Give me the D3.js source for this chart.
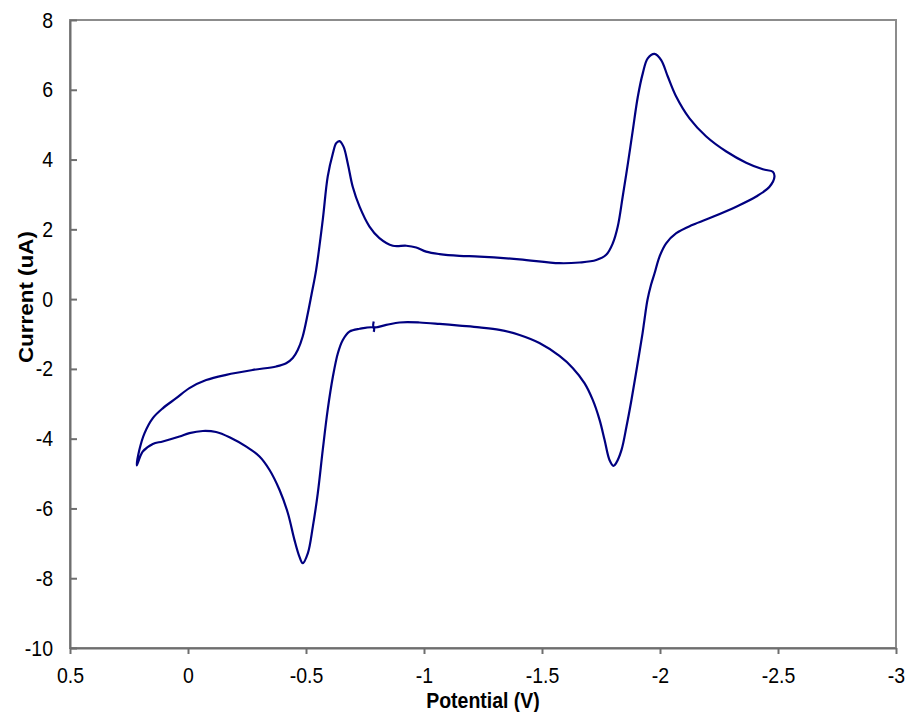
<!DOCTYPE html>
<html>
<head>
<meta charset="utf-8">
<script src="https://cdn.jsdelivr.net/npm/d3@7"></script>
<style>
  body { margin: 0; background: #fff; }
  text { font-family: "Liberation Sans", Arial, sans-serif; }
</style>
</head>
<body>
<div id="chart"></div>
<script>
const width = 908;
const height = 712;

// Cyclic voltammogram, in scan order (starts at the small tick near -0.79 V)
const potential = [
  -0.787, -0.787, -0.727, -0.684, -0.656, -0.635, -0.614, -0.592, -0.571, -0.550,
  -0.529, -0.508, -0.486, -0.472, -0.451, -0.423, -0.388, -0.345, -0.303, -0.247,
  -0.176, -0.119, -0.063, -0.006, 0.036, 0.107, 0.149, 0.192, 0.217,
  0.206, 0.184, 0.149, 0.107, 0.050, -0.006, -0.077, -0.162, -0.275, -0.374,
  -0.416, -0.444, -0.465, -0.486, -0.508, -0.523, -0.543, -0.571, -0.592, -0.614,
  -0.628, -0.642, -0.659, -0.677, -0.698, -0.727, -0.769, -0.811, -0.868, -0.925,
  -0.967, -1.009, -1.066, -1.150, -1.235, -1.405, -1.574, -1.659, -1.730, -1.772,
  -1.800, -1.821, -1.842, -1.864, -1.885, -1.906, -1.927, -1.948, -1.977, -2.005,
  -2.033, -2.069, -2.125, -2.196, -2.281, -2.365, -2.436, -2.478, -2.485,
  -2.464, -2.408, -2.323, -2.224, -2.139, -2.069, -2.026, -1.998, -1.977, -1.962,
  -1.947, -1.934, -1.926, -1.903, -1.879, -1.858, -1.837, -1.814, -1.803, -1.786,
  -1.765, -1.744, -1.715, -1.680, -1.631, -1.574, -1.489, -1.405, -1.320, -1.235,
  -1.150, -1.066, -0.981, -0.896, -0.840, -0.787, -0.787
];
const current = [
  -0.94, -0.82, -0.85, -0.93, -1.17, -1.55, -2.22, -3.17, -4.32, -5.56,
  -6.52, -7.28, -7.57, -7.38, -6.90, -6.13, -5.47, -4.89, -4.51, -4.23,
  -3.96, -3.81, -3.78, -3.84, -3.94, -4.08, -4.15, -4.37, -4.77,
  -4.32, -3.84, -3.41, -3.13, -2.84, -2.55, -2.32, -2.17, -2.03, -1.93,
  -1.84, -1.69, -1.46, -1.07, -0.40, 0.12, 0.84, 2.27, 3.51, 4.18,
  4.47, 4.53, 4.37, 3.89, 3.22, 2.65, 2.08, 1.75, 1.53, 1.53,
  1.48, 1.36, 1.29, 1.24, 1.22, 1.14, 1.03, 1.05, 1.12, 1.27,
  1.60, 2.08, 2.94, 3.89, 4.85, 5.80, 6.47, 6.90, 7.03, 6.85,
  6.38, 5.80, 5.18, 4.66, 4.23, 3.91, 3.72, 3.65, 3.51,
  3.22, 2.94, 2.65, 2.36, 2.13, 1.89, 1.60, 1.22, 0.74, 0.41,
  -0.02, -0.60, -0.98, -1.93, -2.89, -3.65, -4.32, -4.70, -4.78, -4.61,
  -4.03, -3.46, -2.89, -2.41, -1.98, -1.63, -1.26, -1.03, -0.88, -0.81,
  -0.76, -0.71, -0.67, -0.67, -0.74, -0.80, -0.64
];

const xTicks = [0.5, 0, -0.5, -1, -1.5, -2, -2.5, -3];
const yTicks = [-10, -8, -6, -4, -2, 0, 2, 4, 6, 8];

const margin = { top: 20, right: 12, bottom: 64, left: 70 };
const stretch = 1.15; // the reference text is taller than it is wide

const x = d3.scaleLinear()
  .domain([0.5, -3])
  .range([margin.left, width - margin.right]);

const y = d3.scaleLinear()
  .domain([-10, 8])
  .range([height - margin.bottom, margin.top]);

const svg = d3.select("#chart")
  .append("svg")
  .attr("width", width)
  .attr("height", height);

// plot frame
svg.append("rect")
  .attr("x", x(0.5))
  .attr("y", y(8))
  .attr("width", x(-3) - x(0.5))
  .attr("height", y(-10) - y(8))
  .attr("fill", "none")
  .attr("stroke", "#8c8c8c")
  .attr("stroke-width", 2);

const fmt = d => String(d);

// x axis
const gx = svg.append("g")
  .attr("transform", `translate(0,${y(-10)})`)
  .call(d3.axisBottom(x).tickValues(xTicks).tickFormat(fmt).tickSizeInner(6).tickSizeOuter(0));

gx.selectAll("text")
  .attr("y", null)
  .attr("dy", null)
  .attr("transform", `translate(0,35) scale(1,${stretch})`);

// y axis, ticks point inward
const gy = svg.append("g")
  .attr("transform", `translate(${x(0.5)},0)`)
  .call(d3.axisLeft(y).tickValues(yTicks).tickFormat(fmt).tickSizeInner(-7).tickSizeOuter(0));

gy.selectAll("text")
  .attr("x", null)
  .attr("dy", null)
  .attr("transform", `translate(-17,7) scale(1,${stretch})`);

svg.selectAll(".domain, .tick line")
  .attr("stroke", "#6e6e6e")
  .attr("stroke-width", 2);

svg.selectAll(".tick text")
  .attr("fill", "#000")
  .attr("font-size", "19.5px")
  .attr("font-family", "'Liberation Sans', Arial, sans-serif");

// axis titles
svg.append("text")
  .attr("transform", `translate(${(x(0.5) + x(-3)) / 2},708) scale(1,${stretch})`)
  .attr("text-anchor", "middle")
  .attr("font-size", "19.5px")
  .attr("font-weight", "bold")
  .text("Potential (V)");

svg.append("text")
  .attr("transform", `translate(33,${y(0) - 2}) rotate(-90) scale(${stretch},1)`)
  .attr("text-anchor", "middle")
  .attr("font-size", "19.5px")
  .attr("font-weight", "bold")
  .text("Current (uA)");

// the voltammogram
const pts = potential.map((v, i) => [v, current[i]]);

const line = d3.line()
  .x(d => x(d[0]))
  .y(d => y(d[1]))
  .curve(d3.curveCatmullRom.alpha(0.5));

svg.append("path")
  .datum(pts)
  .attr("d", line)
  .attr("fill", "none")
  .attr("stroke", "#000080")
  .attr("stroke-width", 2.2)
  .attr("stroke-linejoin", "round");
</script>
</body>
</html>
